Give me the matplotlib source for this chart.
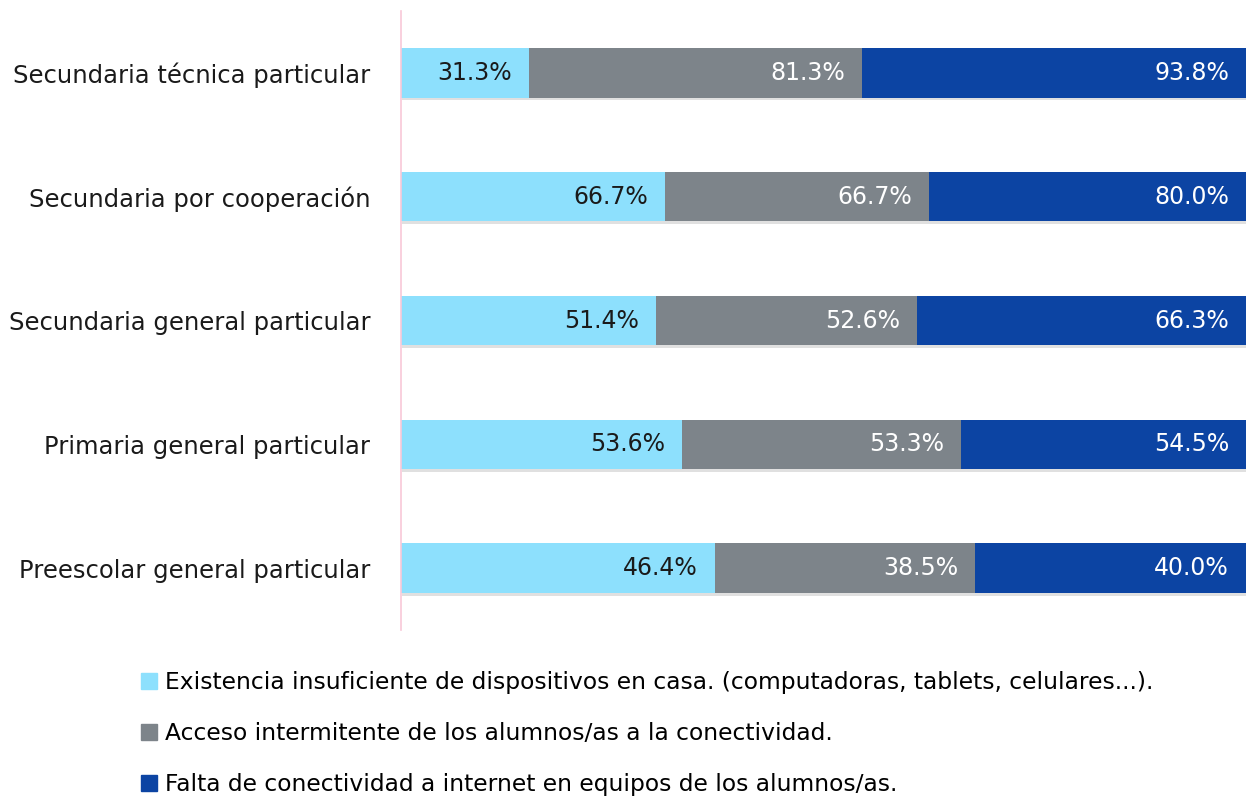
import matplotlib
matplotlib.use("Agg")
import matplotlib.pyplot as plt
from matplotlib.lines import Line2D
import matplotlib.patheffects as pe
import numpy as np

plt.rcParams['font.family'] = ['DejaVu Sans']

categories = ["Preescolar general particular", "Primaria general particular",
              "Secundaria general particular", "Secundaria por cooperación",
              "Secundaria técnica particular"]
dispositivos = [46.4, 53.6, 51.4, 66.7, 31.3]
intermitente = [38.5, 53.3, 52.6, 66.7, 81.3]
falta = [40.0, 54.5, 66.3, 80.0, 93.8]

series_names = ["Existencia insuficiente de dispositivos en casa. (computadoras, tablets, celulares...).",
                "Acceso intermitente de los alumnos/as a la conectividad.",
                "Falta de conectividad a internet en equipos de los alumnos/as."]
colors = ["#8DE0FD", "#7D848A", "#0C44A3"]
text_colors = ["#1a1a1a", "white", "white"]

fig = plt.figure(figsize=(12.46, 7.98), dpi=100)
ax = fig.add_axes([401 / 1246, 1 - 630 / 798, 1 - 401 / 1246, (630 - 11) / 798])

data = np.array([dispositivos, intermitente, falta])
totals = data.sum(axis=0)
shares = data / totals * 100
y = np.arange(len(categories))
left = np.zeros(len(categories))
shadow = [pe.SimplePatchShadow(offset=(1, -2), shadow_rgbFace="#000000", alpha=0.12), pe.Normal()]
for i in range(3):
    ax.barh(y, shares[i], left=left, height=0.4, color=colors[i], path_effects=shadow)
    for j in range(len(categories)):
        ax.text(left[j] + shares[i][j] - 2.0, y[j], f"{data[i][j]:.1f}%", ha="right", va="center",
                fontsize=17, color=text_colors[i])
    left += shares[i]

ax.set_xlim(0, 100)
ax.set_ylim(-0.5, 4.5)
ax.set_yticks(y)
ax.set_yticklabels(categories, fontsize=17.5, color="#1a1a1a")
ax.tick_params(axis="y", length=0, pad=22)
ax.set_xticks([])
for s in ["top", "right", "bottom"]:
    ax.spines[s].set_visible(False)
ax.spines["left"].set_color("#F8C8D8")
ax.spines["left"].set_linewidth(1.2)

handles = [Line2D([], [], marker="s", linestyle="none", markersize=11, color=c) for c in colors]
fig.legend(handles, series_names, loc="upper left", bbox_to_anchor=(114 / 1246, 1 - 650 / 798),
           frameon=False, fontsize=16.8, handletextpad=0.1, labelspacing=1.2, handlelength=1.2)

fig.savefig("out.png", dpi=100)
